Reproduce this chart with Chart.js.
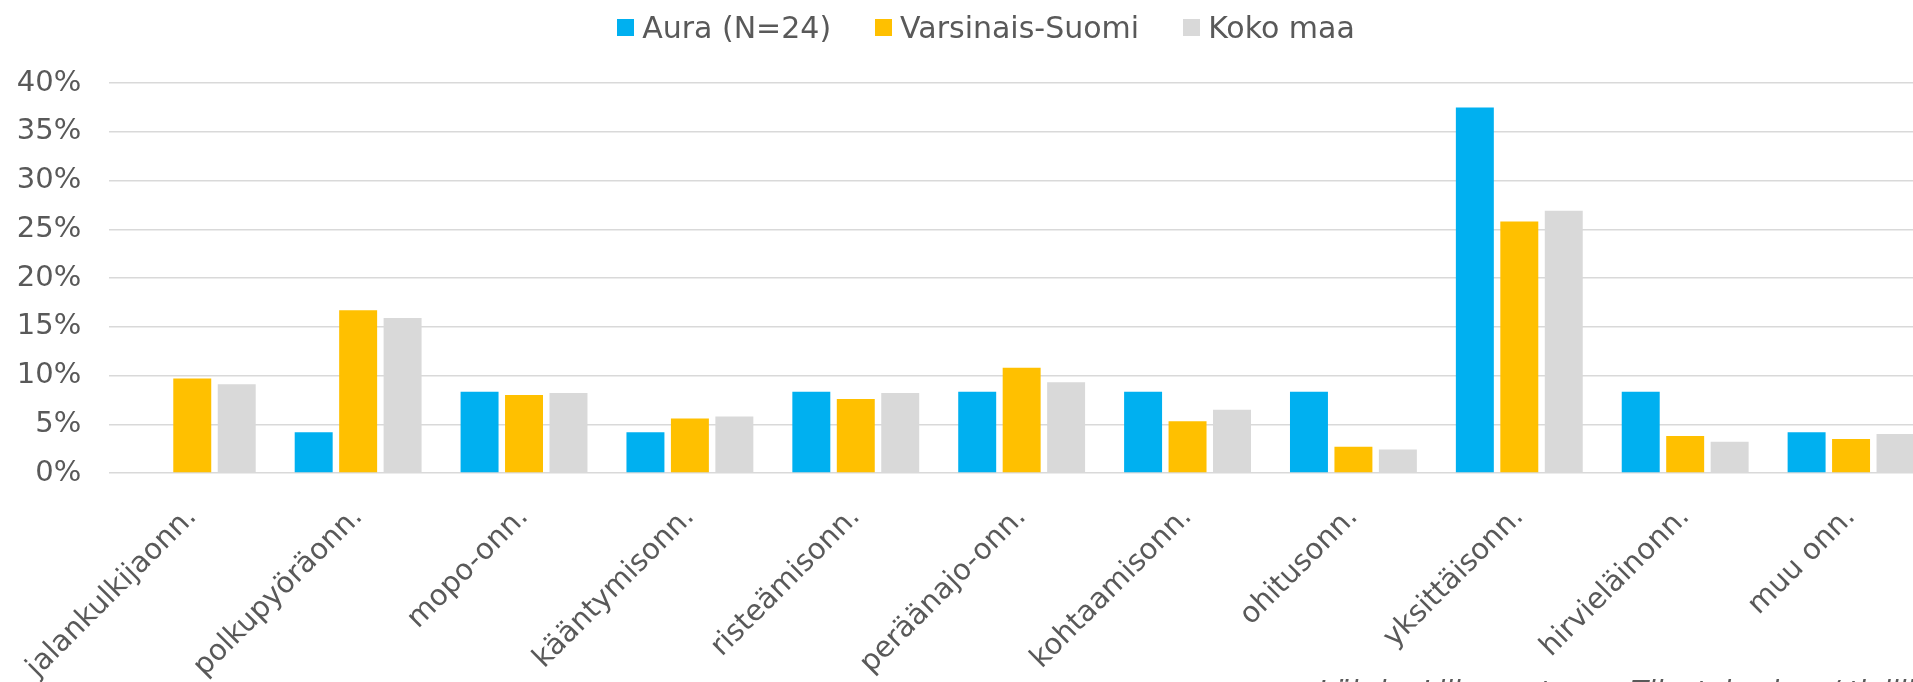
<!DOCTYPE html>
<html>
<head>
<meta charset="utf-8">
<script src="https://cdn.jsdelivr.net/npm/chart.js@4.4.0/dist/chart.umd.min.js"></script>
<style>
    html, body { margin: 0; padding: 0; background: #fff; overflow: hidden; width: 1913px; height: 682px; }
    #wrap { position: absolute; left: 0; top: 0; width: 1972px; height: 720px; }
    #legend {
        position: absolute; left: 0; top: 10px; width: 1972px; height: 34px;
        display: flex; justify-content: center; align-items: center; gap: 44px;
        font-family: "DejaVu Sans", Verdana, sans-serif; font-size: 30px; color: #595959;
    }
    #legend .item { display: flex; align-items: center; }
    #legend .box { width: 17px; height: 17px; margin-right: 8px; }
    #source {
        position: absolute; left: 1318px; top: 675px; white-space: nowrap;
        font-family: "DejaVu Sans", Verdana, sans-serif; font-style: italic; font-size: 28px; color: #595959;
    }
</style>
</head>
<body>
<div id="wrap">
    <canvas id="chart" width="1972" height="720"></canvas>
    <div id="legend"></div>
    <div id="source">Lähde: Liikenneturva, Tilastokeskus / tieliikenneonnettomuustilasto</div>
</div>
<script>
// Onnettomuustyypit (kategoriat)
const categories = ['jalankulkijaonn.', 'polkupyöräonn.', 'mopo-onn.', 'kääntymisonn.', 'risteämisonn.',
    'peräänajo-onn.', 'kohtaamisonn.', 'ohitusonn.', 'yksittäisonn.', 'hirvieläinonn.', 'muu onn.'];

// Osuudet prosentteina
const aura = [0, 4.17, 8.33, 4.17, 8.33, 8.33, 8.33, 8.33, 37.5, 8.33, 4.17];
const varsinaisSuomi = [9.7, 16.7, 8.0, 5.6, 7.6, 10.8, 5.3, 2.7, 25.8, 3.8, 3.5];
const kokoMaa = [9.1, 15.9, 8.2, 5.8, 8.2, 9.3, 6.5, 2.4, 26.9, 3.2, 4.0];

const seriesNames = ['Aura (N=24)', 'Varsinais-Suomi', 'Koko maa'];
const seriesColors = ['#00B0F0', '#FFC000', '#D9D9D9'];
const yTicks = [0, 5, 10, 15, 20, 25, 30, 35, 40];

const textColor = '#595959';
const font = { family: '"DejaVu Sans", Verdana, sans-serif', size: 29 };

// Selite HTML:nä
const legendEl = document.getElementById('legend');
seriesNames.forEach(function(name, i) {
    const item = document.createElement('div');
    item.className = 'item';
    item.innerHTML = '<span class="box" style="background:' + seriesColors[i] + '"></span><span>' + name + '</span>';
    legendEl.appendChild(item);
});

const ctx = document.getElementById('chart').getContext('2d');
new Chart(ctx, {
    type: 'bar',
    data: {
        labels: categories,
        datasets: [aura, varsinaisSuomi, kokoMaa].map(function(values, i) {
            return {
                label: seriesNames[i],
                data: values,
                backgroundColor: seriesColors[i],
                borderWidth: 0,
                categoryPercentage: 0.804,
                barPercentage: 0.854
            };
        })
    },
    options: {
        responsive: false,
        animation: false,
        layout: { padding: { top: 83, right: 38, left: 0, bottom: 0 } },
        plugins: {
            legend: { display: false },
            tooltip: { enabled: false }
        },
        scales: {
            x: {
                grid: { display: false, drawTicks: false },
                border: { display: false },
                ticks: {
                    color: textColor,
                    font: font,
                    minRotation: 45,
                    maxRotation: 45,
                    padding: 27,
                    autoSkip: false
                },
                afterFit: function(scale) { scale.height = 720 - 473; }
            },
            y: {
                min: 0,
                max: 40,
                afterBuildTicks: function(scale) {
                    scale.ticks = yTicks.map(function(v) { return { value: v }; });
                },
                grid: { color: '#D9D9D9', lineWidth: 1.5, drawTicks: false },
                border: { display: false },
                ticks: {
                    color: textColor,
                    font: font,
                    padding: 28,
                    callback: function(v) { return v + '%'; }
                },
                afterFit: function(scale) { scale.width = 108; }
            }
        }
    }
});
</script>
</body>
</html>
